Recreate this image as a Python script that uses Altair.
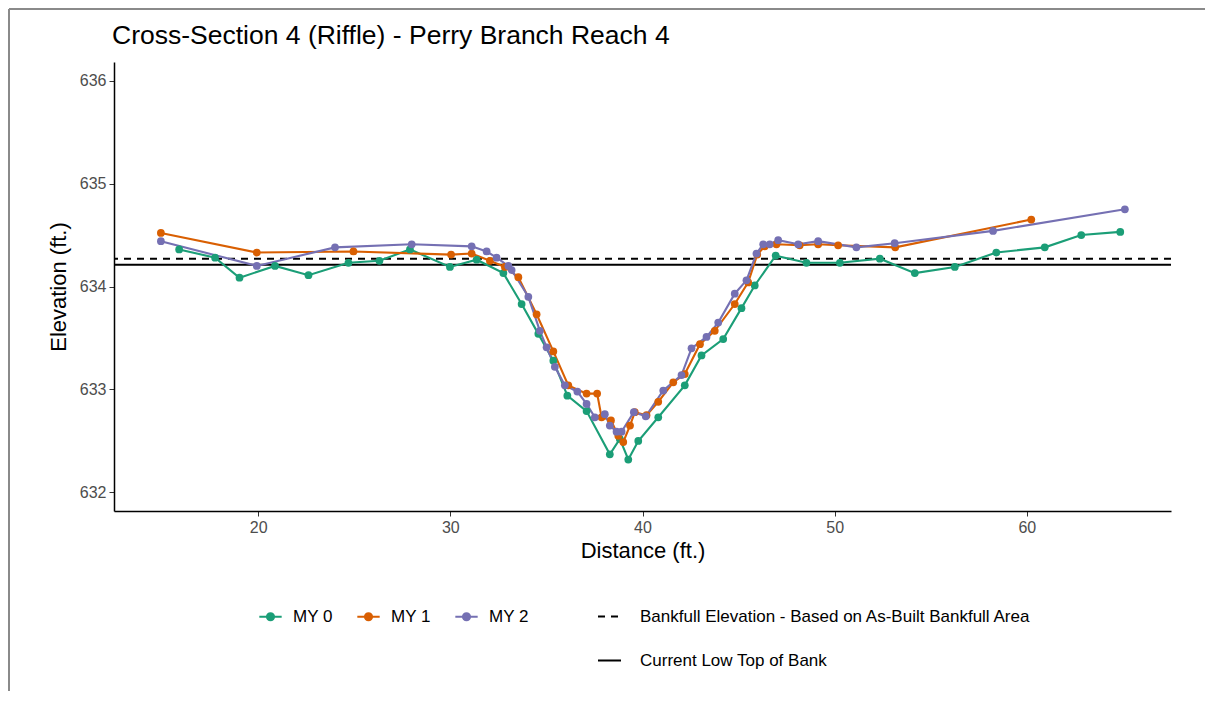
import altair as alt
import pandas as pd

title_text = "Cross-Section 4 (Riffle) - Perry Branch Reach 4"
series_names = ["MY 0", "MY 1", "MY 2"]
series_colors = ["#1b9e77", "#d95f02", "#7570b3"]

my0_dist = [15.89, 17.76, 19.03, 20.88, 22.62, 24.70, 26.31, 27.90, 29.98, 31.37,
            32.76, 33.71, 34.58, 35.36, 36.09, 37.09, 38.30, 38.82, 39.26, 39.78,
            40.82, 42.20, 43.07, 44.20, 45.15, 45.84, 46.93, 48.53, 50.27, 52.35,
            54.17, 56.25, 58.41, 60.93, 62.83, 64.86]
my0_elev = [634.36, 634.28, 634.085, 634.20, 634.11, 634.23, 634.25, 634.36, 634.19, 634.26,
            634.13, 633.83, 633.54, 633.28, 632.94, 632.79, 632.37, 632.52, 632.32, 632.50,
            632.73, 633.04, 633.33, 633.49, 633.79, 634.01, 634.30, 634.23, 634.23, 634.27,
            634.13, 634.19, 634.33, 634.38, 634.50, 634.53]

my1_dist = [14.94, 19.93, 24.96, 30.04, 31.11, 32.06, 32.84, 33.54, 34.49, 35.36,
            36.14, 37.09, 37.64, 37.87, 38.36, 38.74, 39.00, 39.35, 39.60, 40.21,
            40.82, 41.60, 42.20, 42.99, 43.76, 44.80, 45.50, 45.97, 46.36, 46.97,
            48.18, 49.14, 50.18, 53.15, 60.23]
my1_elev = [634.52, 634.33, 634.34, 634.31, 634.32, 634.25, 634.19, 634.09, 633.73, 633.37,
            633.04, 632.96, 632.96, 632.73, 632.70, 632.55, 632.49, 632.65, 632.78, 632.75,
            632.88, 633.07, 633.15, 633.44, 633.57, 633.83, 634.04, 634.31, 634.39, 634.41,
            634.40, 634.41, 634.40, 634.38, 634.65]

my2_dist = [14.94, 19.93, 24.00, 27.99, 31.11, 31.89, 32.41, 33.02, 33.19, 34.06,
            34.66, 35.01, 35.44, 35.96, 36.61, 37.09, 37.52, 38.04, 38.30, 38.65,
            38.91, 39.55, 40.17, 41.08, 42.03, 42.55, 43.33, 43.94, 44.80, 45.41,
            45.93, 46.28, 46.62, 47.06, 48.10, 49.14, 51.13, 53.12, 58.24, 65.10]
my2_elev = [634.44, 634.20, 634.38, 634.41, 634.39, 634.34, 634.28, 634.20, 634.16, 633.90,
            633.57, 633.41, 633.22, 633.04, 632.98, 632.86, 632.73, 632.76, 632.65, 632.59,
            632.59, 632.78, 632.74, 632.99, 633.14, 633.40, 633.51, 633.65, 633.93, 634.06,
            634.32, 634.41, 634.41, 634.45, 634.41, 634.44, 634.38, 634.42, 634.54, 634.75]

line_labels = ["Bankfull Elevation - Based on As-Built Bankfull Area", "Current Low Top of Bank"]
line_elevs = [634.27, 634.21]

x_ticks = [20, 30, 40, 50, 60]
y_ticks = [632, 633, 634, 635, 636]

rows = []
for name, ds, es in zip(series_names, [my0_dist, my1_dist, my2_dist], [my0_elev, my1_elev, my2_elev]):
    for i, (d, e) in enumerate(zip(ds, es)):
        rows.append({"series": name, "dist": d, "elev": e, "order": i})
df = pd.DataFrame(rows)
hl = pd.DataFrame({"label": line_labels, "elev": line_elevs})

FONT = "Liberation Sans"

x_enc = alt.X("dist:Q",
              scale=alt.Scale(domain=[12.5, 67.5], nice=False, zero=False),
              axis=alt.Axis(values=x_ticks, title="Distance (ft.)", grid=False,
                            domainColor="black", domainWidth=1.5, tickColor="#333333",
                            tickSize=5, labelPadding=3, labelFontSize=16, labelColor="#4d4d4d",
                            labelFont=FONT, titleFont=FONT, titleFontSize=22,
                            titleFontWeight="normal", titleColor="black", titlePadding=5))
y_enc = alt.Y("elev:Q",
              scale=alt.Scale(domain=[631.82, 636.18], nice=False, zero=False),
              axis=alt.Axis(values=y_ticks, title="Elevation (ft.)", grid=False,
                            domainColor="black", domainWidth=1.5, tickColor="#333333",
                            tickSize=5, labelPadding=3, labelFontSize=16, labelColor="#4d4d4d",
                            labelFont=FONT, titleFont=FONT, titleFontSize=22,
                            titleFontWeight="normal", titleColor="black", titlePadding=9,
                            format="d"))

color_enc = alt.Color("series:N",
                      scale=alt.Scale(domain=series_names, range=series_colors),
                      legend=alt.Legend(orient="none", legendX=144, legendY=542,
                                        direction="horizontal", title=None, padding=0,
                                        symbolType="M-1,0L1,0M-0.32,0A0.32,0.32,0,1,0,0.32,0A0.32,0.32,0,1,0,-0.32,0",
                                        symbolSize=500, symbolStrokeWidth=2,
                                        labelFont=FONT, labelFontSize=17, labelColor="black",
                                        labelOffset=10, columnPadding=20, labelLimit=0))

lines = alt.Chart(df).mark_line(strokeWidth=2.1).encode(
    x=x_enc, y=y_enc, color=color_enc, order="order:Q")
points = alt.Chart(df).mark_point(filled=True, size=60, opacity=1).encode(
    x=x_enc, y=y_enc, color=color_enc)

rules = alt.Chart(hl).mark_rule(strokeWidth=2, color="black").encode(
    y=y_enc,
    strokeDash=alt.StrokeDash("label:N",
                              scale=alt.Scale(domain=line_labels, range=[[7, 6], [1, 0]]),
                              legend=alt.Legend(orient="none", legendX=483, legendY=542,
                                                direction="vertical", title=None, padding=0,
                                                symbolType="stroke", symbolStrokeColor="black",
                                                symbolStrokeWidth=2, symbolSize=529,
                                                labelFont=FONT, labelFontSize=17,
                                                labelColor="black", labelOffset=18,
                                                rowPadding=23, labelLimit=0)))

one_row = pd.DataFrame({"k": [0]})
border_top = alt.Chart(one_row).mark_rule(color="#8a8a8a", strokeWidth=2).encode(
    x=alt.value(-105), x2=alt.value(1092), y=alt.value(-53))
border_left = alt.Chart(one_row).mark_rule(color="#8a8a8a", strokeWidth=2).encode(
    x=alt.value(-105), y=alt.value(-53), y2=alt.value(640))

title_mark = alt.Chart(one_row).mark_text(
    font=FONT, fontSize=26.5, color="black", align="left", baseline="alphabetic"
).encode(x=alt.value(-2), y=alt.value(-18), text=alt.value(title_text))

chart = alt.layer(rules, lines, points, border_top, border_left, title_mark).properties(
    width=1057, height=449,
    autosize=alt.AutoSizeParams(type="none"),
    padding={"left": 106, "top": 54, "right": 34, "bottom": 180},
    background="white",
).configure_view(stroke=None)

chart.save("out.html", embed_options={"renderer": "svg", "actions": False})
